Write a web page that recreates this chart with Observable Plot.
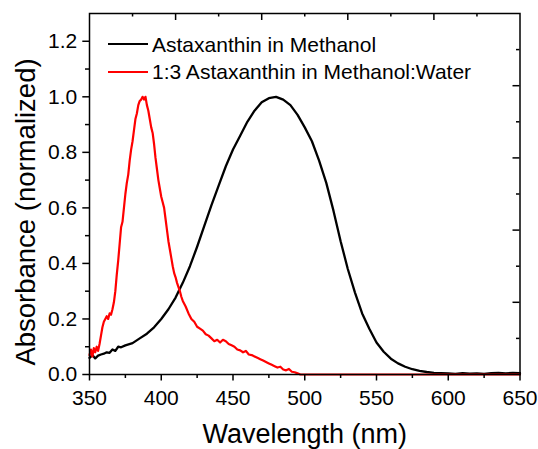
<!DOCTYPE html>
<html>
<head>
<meta charset="utf-8">
<script src="https://cdn.jsdelivr.net/npm/d3@7"></script>
<script src="https://cdn.jsdelivr.net/npm/@observablehq/plot@0.6"></script>
<style>
html,body{margin:0;padding:0;background:#fff;}
#wrap{position:relative;width:538px;height:449px;font-family:"Liberation Sans",Arial,sans-serif;color:#000;}
.sw{position:absolute;left:108px;width:40px;height:2px;}
.lt{position:absolute;left:152px;font-size:21px;line-height:24px;white-space:nowrap;color:#000;}
</style>
</head>
<body>
<div id="wrap"></div>
<script>
// ---- Data ----
const seriesNames = ["Astaxanthin in Methanol", "1:3 Astaxanthin in Methanol:Water"];
const seriesColors = ["#000000", "#ff0000"];

const methanolWl = [350,352,354,356,358,360,362,364,366,368,370,372,375,380,385,390,395,400,405,410,415,420,425,430,435,440,445,450,455,460,465,470,475,480,485,490,495,500,505,510,515,520,525,530,535,540,545,550,555,560,565,570,575,580,585,590,595,600,605,610,615,620,625,630,635,640,645,650];
const methanolAbs = [0.060,0.070,0.058,0.068,0.072,0.075,0.080,0.078,0.090,0.085,0.100,0.098,0.105,0.113,0.130,0.147,0.170,0.200,0.235,0.277,0.330,0.390,0.460,0.535,0.610,0.680,0.750,0.810,0.860,0.910,0.950,0.980,0.995,1.000,0.990,0.970,0.935,0.890,0.840,0.770,0.690,0.590,0.480,0.380,0.295,0.220,0.165,0.115,0.082,0.057,0.040,0.028,0.019,0.013,0.009,0.006,0.005,0.004,0.002,0.005,0.003,0.004,0.002,0.005,0.006,0.004,0.006,0.005];

const waterWl = [350,351,352,353,354,355,356,357,358,359,360,361,362,363,364,365,366,367,368,369,370,371,372,373,374,375,376,377,378,379,380,381,382,383,384,385,386,387,388,389,390,391,392,393,394,395,396,397,398,399,400,401,402,403,404,405,406,407,408,409,410,411,412,413,414,415,417,419,421,423,425,427,429,431,433,435,437,439,441,443,445,447,449,451,453,455,457,459,461,463,465,467,469,471,473,475,477,479,481,483,485,487,489,491,493,495,497,500,550,600,650];
const waterAbs = [0.070,0.090,0.065,0.095,0.080,0.100,0.085,0.110,0.140,0.170,0.190,0.200,0.210,0.200,0.220,0.215,0.235,0.260,0.300,0.360,0.410,0.470,0.530,0.550,0.600,0.650,0.690,0.720,0.770,0.810,0.840,0.880,0.920,0.940,0.970,0.985,0.990,1.000,0.990,1.000,0.970,0.950,0.920,0.890,0.870,0.830,0.780,0.740,0.700,0.670,0.640,0.620,0.600,0.560,0.520,0.480,0.450,0.420,0.390,0.365,0.350,0.330,0.315,0.300,0.280,0.265,0.245,0.220,0.200,0.190,0.172,0.165,0.158,0.145,0.140,0.130,0.120,0.125,0.115,0.125,0.120,0.110,0.105,0.100,0.090,0.087,0.080,0.085,0.072,0.070,0.065,0.060,0.055,0.050,0.045,0.040,0.035,0.030,0.025,0.028,0.018,0.015,0.020,0.010,0.008,0.004,0.000,0.000,0.000,0.000,0.000];

const xMajorTicks = [350,400,450,500,550,600,650];
const xMinorTicks = [375,425,475,525,575,625];
const yMajorTicks = [0,0.2,0.4,0.6,0.8,1.0,1.2];
const yMinorTicks = [0.1,0.3,0.5,0.7,0.9,1.1];
const topMajorTicks = [410,470,530,590];
const topMinorTicks = [380,440,500,560,620];
const rightMajorTicks = [0.26,0.52,0.78,1.04];
const rightMinorTicks = [0.13,0.39,0.65,0.91,1.17];
const xTitle = "Wavelength (nm)";
const yTitle = "Absorbance (normalized)";

// ---- Build tables ----
const methanol = methanolWl.map((w,i)=>({wl:w, abs:methanolAbs[i]}));
const water = waterWl.map((w,i)=>({wl:w, abs:waterAbs[i]}));

const W=538, H=449, mL=89, mR=18.5, mT=13, mB=75;
const frameW = W-mL-mR, frameH = H-mT-mB;
const font = '"Liberation Sans", Arial, sans-serif';

const chart = Plot.plot({
  width: W, height: H,
  marginLeft: mL, marginRight: mR, marginTop: mT, marginBottom: mB,
  style: {fontFamily: font, background: "white", color: "black", overflow: "visible"},
  x: {domain: [350, 650]},
  y: {domain: [0, 1.3]},
  marks: [
    Plot.line(methanol, {x: "wl", y: "abs", stroke: seriesColors[0], strokeWidth: 2.3}),
    Plot.line(water, {x: "wl", y: "abs", stroke: seriesColors[1], strokeWidth: 2.2}),
    Plot.frame({stroke: "black", strokeWidth: 1.5}),
    Plot.axisX(xMajorTicks, {anchor: "bottom", tickSize: 6.5, tickPadding: 9.5, fontSize: 21, label: null, tickFormat: d => String(d), strokeWidth: 1.5}),
    Plot.axisX(xMinorTicks, {anchor: "bottom", tickSize: 4, tickFormat: () => "", label: null, strokeWidth: 1.5}),
    Plot.axisY(yMajorTicks, {anchor: "left", tickSize: 6.7, tickPadding: 5.5, fontSize: 21, label: null, tickFormat: d => d.toFixed(1), strokeWidth: 1.5}),
    Plot.axisY(yMinorTicks, {anchor: "left", tickSize: 4, tickFormat: () => "", label: null, strokeWidth: 1.5}),
    Plot.ruleX(topMajorTicks, {insetBottom: frameH - 7, strokeWidth: 1.5}),
    Plot.ruleX(topMinorTicks, {insetBottom: frameH - 3.5, strokeWidth: 1.5}),
    Plot.ruleY(rightMajorTicks, {insetLeft: frameW - 7, strokeWidth: 1.5}),
    Plot.ruleY(rightMinorTicks, {insetLeft: frameW - 3.5, strokeWidth: 1.5}),
    Plot.text([xTitle], {frameAnchor: "bottom", textAnchor: "middle", lineAnchor: "top", dy: 49, fontSize: 27, text: d => d, fill: "black"}),
    Plot.text([yTitle], {frameAnchor: "left", textAnchor: "middle", rotate: -90, lineAnchor: "top", dx: -74, dy: 18, fontSize: 27.5, text: d => d, fill: "black"})
  ]
});

const wrap = document.getElementById("wrap");
wrap.appendChild(chart);

// ---- Legend (inside the frame, upper left) ----
const legendTops = [32.5, 59.6];
const swatchTops = [43.3, 70.7];
seriesNames.forEach((name, i) => {
  const sw = document.createElement("div");
  sw.className = "sw";
  sw.style.top = swatchTops[i] + "px";
  sw.style.background = seriesColors[i];
  wrap.appendChild(sw);
  const t = document.createElement("div");
  t.className = "lt";
  t.style.top = legendTops[i] + "px";
  t.textContent = name;
  wrap.appendChild(t);
});
</script>
</body>
</html>
